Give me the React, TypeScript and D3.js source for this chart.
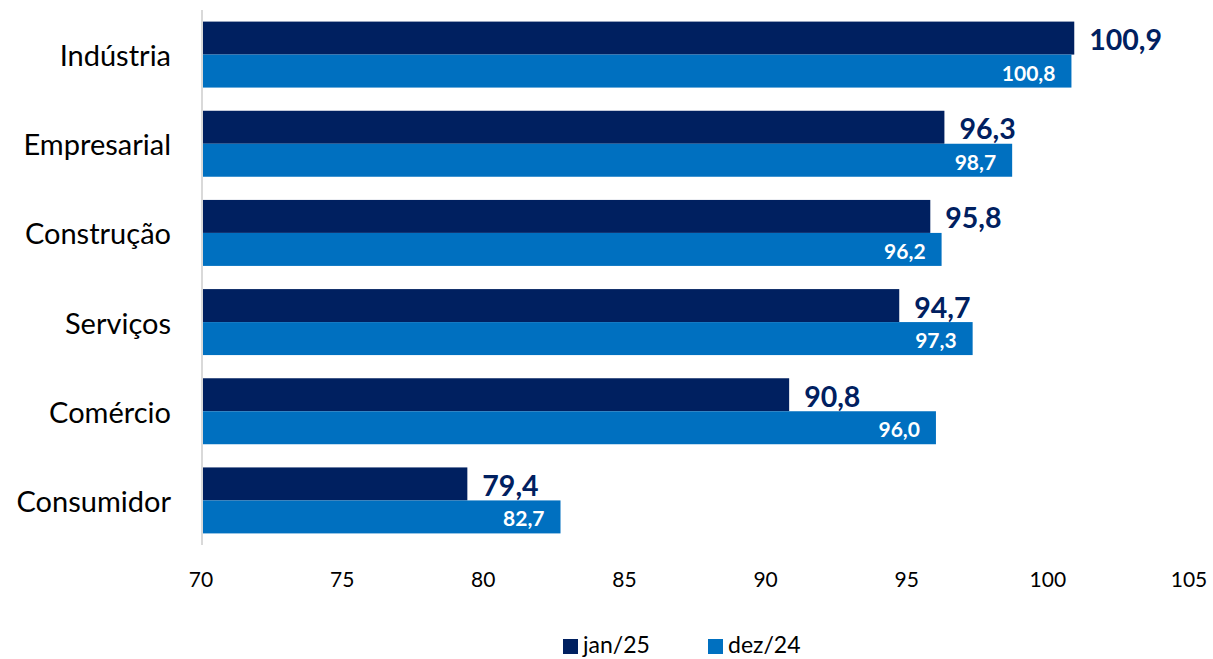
import React from "react";
import * as d3 from "d3";

const categories = ["Indústria", "Empresarial", "Construção", "Serviços", "Comércio", "Consumidor"];
const jan25 = [100.9, 96.3, 95.8, 94.7, 90.8, 79.4];
const dez24 = [100.8, 98.7, 96.2, 97.3, 96.0, 82.7];
const ticks = [70, 75, 80, 85, 90, 95, 100, 105];
const seriesNames = ["jan/25", "dez/24"];
const colors = ["#002060", "#0070C0"];

const W = 1213, H = 659;
const FONT = "Lato, 'Open Sans', sans-serif";

export default function App() {
  const x = d3.scaleLinear().domain([70, 105]).range([202, 1190]);
  const y = d3.scaleBand<string>().domain(categories).range([10, 545]).paddingInner(0.26).paddingOuter(0.13);
  const sub = d3.scaleBand<string>().domain(seriesNames).range([0, y.bandwidth()]);
  const fmt = (v: number) => v.toFixed(1).replace(".", ",");
  return (
    <svg width={W} height={H} style={{ position: "absolute", left: 0, top: 0, fontFamily: FONT }}>
      <rect width={W} height={H} fill="#fff" />
      {categories.map((c, i) => {
        const y0 = y(c)!;
        const h = sub.bandwidth();
        return (
          <g key={c}>
            <text x={171} y={y0 + y.bandwidth() / 2} textAnchor="end" dominantBaseline="central" fontSize={29} fill="#000">{c}</text>
            <rect x={x(70)} y={y0 + sub("jan/25")!} width={x(jan25[i]) - x(70)} height={h} fill={colors[0]} />
            <rect x={x(70)} y={y0 + sub("dez/24")!} width={x(dez24[i]) - x(70)} height={h} fill={colors[1]} />
            <text x={x(jan25[i]) + 15} y={y0 + sub("jan/25")! + h / 2 + 1} dominantBaseline="central" fontSize={28.5} fontWeight="bold" fill={colors[0]}>{fmt(jan25[i])}</text>
            <text x={x(dez24[i]) - 16} y={y0 + sub("dez/24")! + h / 2 + 1} textAnchor="end" dominantBaseline="central" fontSize={21} fontWeight="bold" fill="#fff">{fmt(dez24[i])}</text>
          </g>
        );
      })}
      <line x1={x(70)} x2={x(70)} y1={10} y2={545} stroke="#d9d9d9" strokeWidth={2} />
      {ticks.map((t) => (
        <text key={t} x={x(t) - 1} y={578} textAnchor="middle" dominantBaseline="central" fontSize={21} fill="#000">{t}</text>
      ))}
      {seriesNames.map((s, i) => {
        const lx = i === 0 ? 563 : 708;
        return (
          <g key={s}>
            <rect x={lx} y={639} width={15} height={15} fill={colors[i]} />
            <text x={lx + 20} y={653} fontSize={23} fill="#000">{s}</text>
          </g>
        );
      })}
    </svg>
  );
}
